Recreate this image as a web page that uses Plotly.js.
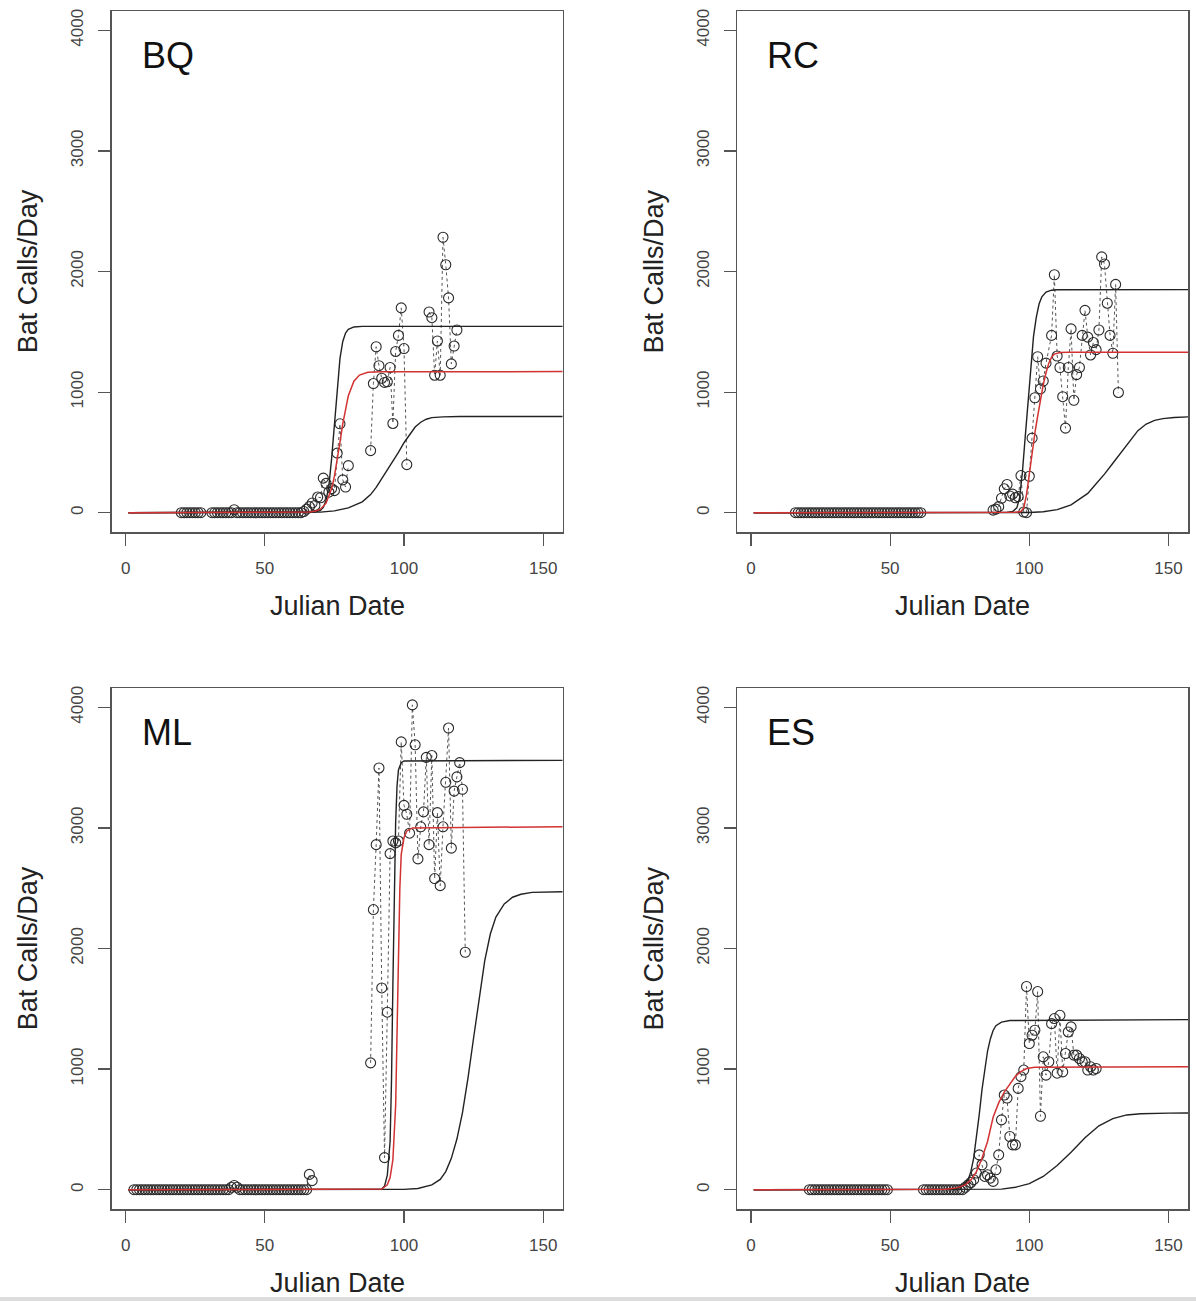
<!DOCTYPE html>
<html>
<head>
<meta charset="utf-8">
<script src="https://cdn.plot.ly/plotly-3.0.1.min.js"></script>
<style>html,body{margin:0;padding:0;background:#fff;}#chart{width:1196px;height:1301px;}</style>
</head>
<body>
<div id="chart"></div>
<script>
// ---------- Observed bat calls per day (null = gap in record) ----------
const bqDays = [20,21,22,23,24,25,26,27,28,
  31,32,33,34,35,36,37,38,39,40,41,42,43,44,45,46,47,48,49,50,51,52,53,54,55,56,57,58,59,60,61,62,63,
  64,65,66,67,68,69,70,71,72,73,74,75,76,77,78,79,80,81,
  88,89,90,91,92,93,94,95,96,97,98,99,100,101,102,
  109,110,111,112,113,114,115,116,117,118,119];
const bqCalls = [0,0,0,0,0,0,0,0,null,
  0,0,0,0,0,0,0,0,25,0,0,0,0,0,0,0,0,0,0,0,0,0,0,0,0,0,0,0,0,0,0,0,0,
  10,30,50,80,60,130,124,287,243,170,200,183,494,737,272,213,390,null,
  515,1071,1376,1219,1115,1080,1086,1204,740,1337,1470,1698,1361,399,null,
  1664,1617,1140,1424,1140,2284,2056,1781,1234,1382,1515];

const rcDays = [16,17,18,19,20,21,22,23,24,25,26,27,28,29,30,31,32,33,34,35,36,37,38,39,40,
  41,42,43,44,45,46,47,48,49,50,51,52,53,54,55,56,57,58,59,60,61,62,
  87,88,89,90,91,92,93,94,95,96,97,98,99,100,101,102,103,104,105,106,108,109,110,
  111,112,113,114,115,116,117,118,119,120,121,122,123,124,125,126,127,128,129,130,131,132];
const rcCalls = [0,0,0,0,0,0,0,0,0,0,0,0,0,0,0,0,0,0,0,0,0,0,0,0,0,
  0,0,0,0,0,0,0,0,0,0,0,0,0,0,0,0,0,0,0,0,0,null,
  21,30,50,120,198,234,139,154,124,133,308,6,0,302,618,953,1293,1027,1092,1240,1470,1973,1299,
  1204,962,701,1204,1524,932,1145,1204,1470,1678,1456,1308,1411,1352,1515,2121,2062,1737,1470,1322,1893,997];

const mlDays = [3,4,5,6,7,8,9,10,11,12,13,14,15,16,17,18,19,20,21,22,23,24,25,26,27,28,29,30,
  31,32,33,34,35,36,37,38,39,40,41,42,43,44,45,46,47,48,49,50,51,52,53,54,55,56,57,58,59,60,
  61,62,63,64,65,66,67,68,
  88,89,90,91,92,93,94,95,96,97,98,99,100,101,102,103,104,105,106,107,108,109,110,
  111,112,113,114,115,116,117,118,119,120,121,122];
const mlCalls = [0,0,0,0,0,0,0,0,0,0,0,0,0,0,0,0,0,0,0,0,0,0,0,0,0,0,0,0,
  0,0,0,0,0,0,0,20,35,20,0,0,0,0,0,0,0,0,0,0,0,0,0,0,0,0,0,0,0,0,
  0,0,0,0,0,127,75,null,
  1052,2323,2861,3497,1673,266,1472,2787,2891,2876,2891,3713,3187,3113,2956,4020,3689,2743,3009,3133,3585,2861,3600,
  2580,3127,2521,3009,3378,3828,2832,3305,3423,3541,3320,1969];

const esDays = [21,22,23,24,25,26,27,28,29,30,31,32,33,34,35,36,37,38,39,40,
  41,42,43,44,45,46,47,48,49,50,
  62,63,64,65,66,67,68,69,70,71,72,73,74,75,76,77,78,79,80,
  81,82,83,84,85,86,87,88,89,90,91,92,93,94,95,96,97,98,99,100,
  101,102,103,104,105,106,107,108,109,110,111,112,113,114,115,116,117,118,119,120,121,122,123,124];
const esCalls = [0,0,0,0,0,0,0,0,0,0,0,0,0,0,0,0,0,0,0,0,
  0,0,0,0,0,0,0,0,0,null,
  0,0,0,0,0,0,0,0,0,0,0,0,0,0,0,20,40,60,83,
  138,289,207,110,124,96,69,165,289,579,785,760,441,372,372,840,937,992,1685,1212,
  1281,1322,1643,609,1102,950,1061,1377,1419,966,1446,977,1129,1308,1350,1116,1116,1088,1061,1061,992,1019,992,1005];

// ---------- Fitted curves ----------
const bqUpX = [1,60,66,68,70,71,72,73,74,75,76,77,78,79,80,82,85,157];
const bqUpY = [0,0,2,5,20,45,100,220,450,750,1050,1280,1420,1490,1520,1540,1545,1545];
const bqMidX = [1,62,66,68,70,72,74,75,76,77,78,79,80,82,84,87,92,157];
const bqMidY = [0,0,5,12,29,79,200,303,435,585,736,867,970,1091,1141,1164,1169,1170];
const bqLowX = [1,60,70,75,80,85,88,90,92,94,96,98,100,102,104,106,108,110,114,120,157];
const bqLowY = [0,0,5,15,40,90,150,210,280,350,420,500,580,650,710,750,775,788,795,798,798];

const rcUpX = [1,88,92,94,95.5,96.5,97.5,98.5,99.5,100.5,101.5,102.5,103.5,104.5,106,108,110,157];
const rcUpY = [0,0,3,10,40,120,330,620,920,1220,1460,1620,1730,1790,1830,1845,1849,1850];
const rcMidX = [1,90,95,97,98,99,100,101,102,103,104,105,106,107,108,109,111,114,157];
const rcMidY = [0,0,3,10,40,150,330,500,660,800,940,1060,1160,1240,1290,1315,1328,1330,1330];
const rcLowX = [1,95,100,105,110,115,118,121,124,127,130,133,136,139,142,145,148,152,157];
const rcLowY = [0,0,2,8,25,65,110,160,240,320,410,500,600,680,735,765,780,790,795];

const mlUpX = [1,90,92,93,94,95,95.5,96,96.5,97,97.5,98,99,100,157];
const mlUpY = [0,0,5,30,120,400,900,1700,2500,3050,3350,3480,3540,3555,3560];
const mlMidX = [1,90,92,94,95,96,97,97.5,98,98.5,99,100,101,103,157];
const mlMidY = [0,0,5,40,100,250,700,1300,2000,2500,2780,2920,2975,3000,3010];
const mlLowX = [1,95,100,105,110,113,115,117,119,121,123,125,127,129,131,133,136,139,142,146,157];
const mlLowY = [0,0,3,10,40,85,150,260,420,640,930,1260,1600,1900,2120,2260,2370,2425,2450,2465,2470];

const esUpX = [1,65,70,74,76,78,79,80,81,82,83,84,85,86,87,88,90,93,157];
const esUpY = [0,0,3,10,30,80,150,260,420,620,830,1010,1150,1250,1320,1360,1390,1403,1410];
const esMidX = [1,65,70,74,77,79,81,83,85,87,89,91,93,95,97,99,102,157];
const esMidY = [0,0,3,15,40,80,150,260,400,600,720,810,880,940,980,1005,1015,1020];
const esLowX = [1,80,90,95,100,105,110,115,120,125,130,135,140,150,157];
const esLowY = [0,0,5,20,50,110,200,310,430,530,590,620,630,635,636];

const siteLabels = ['BQ','RC','ML','ES'];
const xTicks = [0,50,100,150];
const yTicks = [0,1000,2000,3000,4000];

// ---------- build ----------
const panels = [
  {days:bqDays, calls:bqCalls, up:[bqUpX,bqUpY], mid:[bqMidX,bqMidY], low:[bqLowX,bqLowY]},
  {days:rcDays, calls:rcCalls, up:[rcUpX,rcUpY], mid:[rcMidX,rcMidY], low:[rcLowX,rcLowY]},
  {days:mlDays, calls:mlCalls, up:[mlUpX,mlUpY], mid:[mlMidX,mlMidY], low:[mlLowX,mlLowY]},
  {days:esDays, calls:esCalls, up:[esUpX,esUpY], mid:[esMidX,esMidY], low:[esLowX,esLowY]}
];

const W = 1196, H = 1301;
const colL = [111.7, 562.7], colR = [737, 1188];
const rowT = [11, 532], rowB = [688, 1209];
const cells = [[colL,rowT],[colR,rowT],[colL,rowB],[colR,rowB]];

const traces = [];
const layout = {
  width: W, height: H,
  margin: {l:0, r:0, t:0, b:0},
  paper_bgcolor: '#fff', plot_bgcolor: '#fff',
  showlegend: false,
  font: {family: 'Liberation Sans, Arial, sans-serif', color: '#222'},
  annotations: [],
  shapes: [{type:'rect', xref:'paper', yref:'paper', x0:0, x1:1, y0:0, y1:4/H,
            fillcolor:'#dcdcdc', line:{width:0}, layer:'above'}]
};

panels.forEach((p, i) => {
  const n = i === 0 ? '' : String(i + 1);
  const xa = 'x' + n, ya = 'y' + n;
  traces.push({type:'scatter', mode:'lines+markers', x:p.days, y:p.calls, xaxis:xa, yaxis:ya,
    connectgaps:false, cliponaxis:true,
    line:{color:'#555', width:1, dash:'dot'},
    marker:{symbol:'circle-open', size:10, color:'#2a2a2a', line:{width:1.1, color:'#2a2a2a'}}});
  traces.push({type:'scatter', mode:'lines', x:p.up[0], y:p.up[1], xaxis:xa, yaxis:ya,
    line:{color:'#222', width:1.4}});
  traces.push({type:'scatter', mode:'lines', x:p.low[0], y:p.low[1], xaxis:xa, yaxis:ya,
    line:{color:'#222', width:1.4}});
  traces.push({type:'scatter', mode:'lines', x:p.mid[0], y:p.mid[1], xaxis:xa, yaxis:ya,
    line:{color:'rgb(210,50,50)', width:1.5}});

  const [cx, cy] = cells[i];
  const common = {showline:true, mirror:true, linecolor:'#555', linewidth:1.5,
    showgrid:false, zeroline:false, ticks:'outside', ticklen:12, tickwidth:1.2, tickcolor:'#555',
    tickfont:{family:'Liberation Sans, Arial, sans-serif', size:17, color:'#444'}, fixedrange:true};
  layout['xaxis' + n] = Object.assign({}, common, {
    domain:[cx[0]/W, cx[1]/W], range:[-5,157], anchor:ya,
    tickmode:'array', tickvals:xTicks, ticktext:xTicks.map(String), ticklabelstandoff:8});
  layout['yaxis' + n] = Object.assign({}, common, {
    domain:[1 - cy[1]/H, 1 - cy[0]/H], range:[-160,4160], anchor:xa,
    tickmode:'array', tickvals:yTicks, ticktext:yTicks.map(String), tickangle:-90, ticklabelstandoff:8});

  layout.annotations.push({xref:xa + ' domain', yref:ya + ' domain', x:0.063, y:0.915,
    xanchor:'left', yanchor:'middle', showarrow:false, text:siteLabels[i],
    font:{family:'Liberation Sans, Arial, sans-serif', size:36, color:'#111'}});
  const midX = (cx[0] + cx[1]) / 2;
  layout.annotations.push({xref:'paper', yref:'paper', x:midX/W, y:1 - (cy[1] + 74)/H,
    xanchor:'center', yanchor:'middle', showarrow:false, text:'Julian Date',
    font:{family:'Liberation Sans, Arial, sans-serif', size:27, color:'#222'}});
  layout.annotations.push({xref:'paper', yref:'paper', x:(cx[0] - 84)/W, y:1 - ((cy[0] + cy[1]) / 2)/H,
    xanchor:'center', yanchor:'middle', showarrow:false, text:'Bat Calls/Day', textangle:-90,
    font:{family:'Liberation Sans, Arial, sans-serif', size:27, color:'#222'}});
});

Plotly.newPlot('chart', traces, layout, {displayModeBar:false, staticPlot:true});
</script>
</body>
</html>
